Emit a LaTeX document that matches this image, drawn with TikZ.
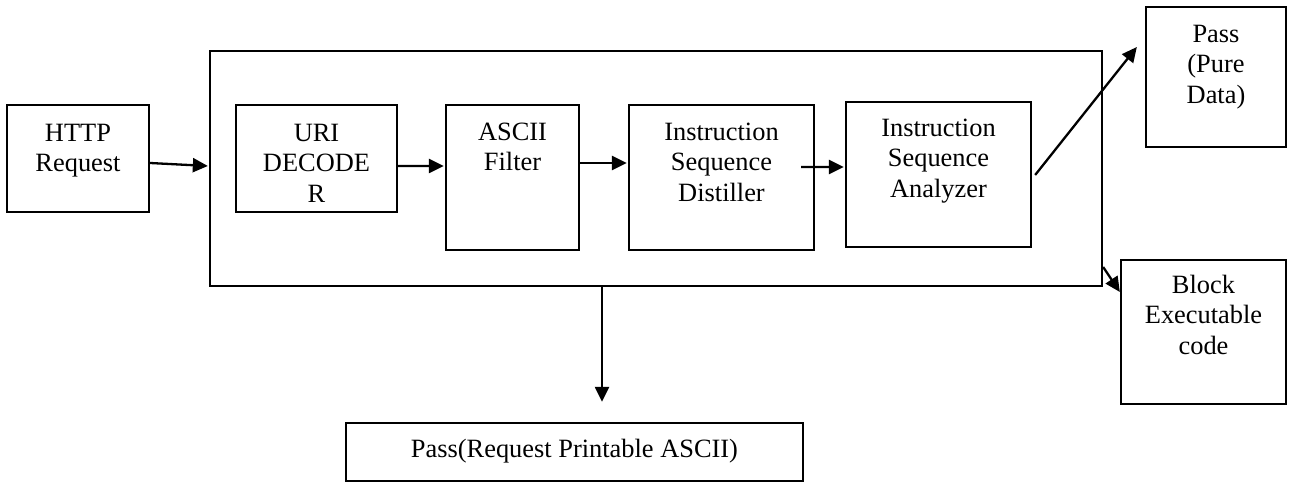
\documentclass[tikz,border=0pt]{standalone}
\usepackage{fontspec}
\setmainfont{Liberation Serif}
\usetikzlibrary{arrows.meta}
\newcommand{\boxfont}{\fontsize{26.4bp}{30.5bp}\selectfont}
\begin{document}
\begin{tikzpicture}[x=1bp,y=-1bp,
  box/.style={draw, line width=2.3bp, rectangle, inner sep=0pt},
  lbl/.style={anchor=north, inner sep=0pt, align=center, font=\boxfont},
  flow/.style={line width=2.3bp, -{Triangle[length=15bp,width=14bp]}}]
\useasboundingbox (0,0) rectangle (1289,487);

% outer processing block
\node[box, minimum width=892bp, minimum height=235bp] (outer) at (656,168.5) {};

% boxes
\node[box, minimum width=142bp, minimum height=107bp] (http) at (78,158.5) {};
\node[box, minimum width=161bp, minimum height=107bp] (uri) at (316.5,158.5) {};
\node[box, minimum width=133bp, minimum height=145bp] (ascii) at (512.5,177.5) {};
\node[box, minimum width=185bp, minimum height=145bp] (distil) at (721.5,177.5) {};
\node[box, minimum width=185bp, minimum height=145bp] (analyzer) at (938.5,174.5) {};
\node[box, minimum width=140bp, minimum height=140bp] (pure) at (1216,77) {};
\node[box, minimum width=165bp, minimum height=144bp] (block) at (1203.5,332) {};
\node[box, minimum width=457bp, minimum height=58bp] (printable) at (574.5,452) {};

% labels (first baseline minus strut height)
\node[lbl] (t-http) at (78,119.65) {\strut HTTP\\Request};
\node[lbl] (t-uri) at (316.5,119.65) {\strut URI\\DECODE\\R};
\node[lbl] (t-ascii) at (512.5,118.65) {\strut ASCII\\Filter};
\node[lbl] (t-distil) at (721.5,118.65) {\strut Instruction\\Sequence\\Distiller};
\node[lbl] (t-analyzer) at (938.5,114.65) {\strut Instruction\\Sequence\\Analyzer};
\node[lbl] (t-pure) at (1216,20.65) {\strut Pass\\(Pure\\Data)};
\node[lbl] (t-block) at (1203.5,271.65) {\strut Block\\Executable\\code};
\node[lbl] (t-printable) at (574.5,435.65) {\strut Pass(Request Printable ASCII)};

% connectors (shifts are in page direction: positive yshift is upward)
\draw[flow] ([yshift=-4.5bp]http.east) -- ([yshift=2.5bp,xshift=-1bp]outer.west);
\draw[flow] ([yshift=-7.5bp]uri.east) -- ([yshift=11.5bp,xshift=-1bp]ascii.west);
\draw[flow] ([yshift=14.5bp]ascii.east) -- ([yshift=14.5bp,xshift=-1bp]distil.west);
\draw[flow] ([yshift=10.5bp,xshift=-14bp]distil.east) -- ([yshift=7.5bp,xshift=-1bp]analyzer.west);
\draw[flow] ([yshift=-0.5bp,xshift=3bp]analyzer.east) -- ([xshift=-8bp,yshift=30bp]pure.west);
\draw[flow] ([yshift=-98.5bp]outer.east) -- ([yshift=40bp]block.west);
\draw[flow] ([xshift=27.5bp]outer.south -| printable.north) -- ([xshift=27.5bp,yshift=20bp]printable.north);
\end{tikzpicture}
\end{document}
